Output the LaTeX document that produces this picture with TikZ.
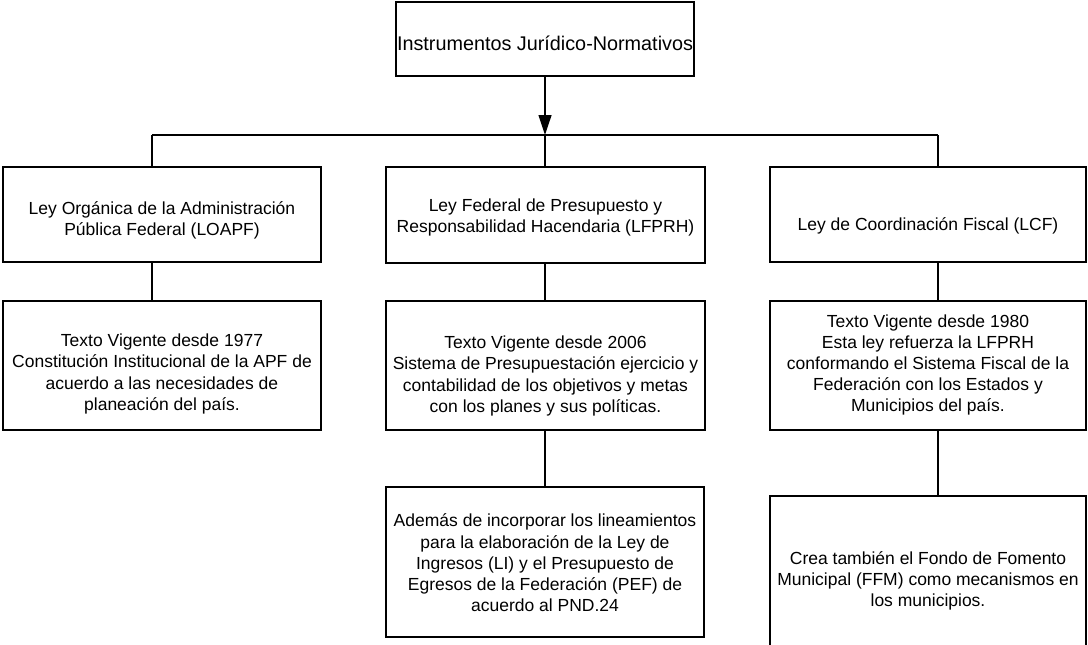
\documentclass[tikz,border=0pt]{standalone}
\usepackage{fontspec}
\setmainfont{Liberation Sans}
\usetikzlibrary{arrows.meta}

\begin{document}
\begin{tikzpicture}[x=1pt,y=-1pt,line width=1.2pt]
    \tikzstyle{box}=[rectangle,draw=black,fill=white,inner sep=0pt]
    \tikzstyle{txt}=[align=center,inner sep=0pt,font=\fontsize{17.5}{21.2}\selectfont]
    \useasboundingbox (0,0) rectangle (1088,645);

    % cajas
    \foreach \name/\x/\y/\w/\h in {top/545/39/298/74,
                                   L-1/162/214.5/318/95, M-1/545.5/215/319/96, R-1/928/214.5/316/95,
                                   L-2/162/365.5/318/129, M-2/545.5/365.5/319/129, R-2/928/365.5/316/129,
                                   M-3/545/562/318/150, R-3/928/588/316/184}
        \node[box,minimum width=\w pt,minimum height=\h pt] (\name) at (\x,\y) {};

    % textos
    \node[txt,font=\fontsize{19.8}{23}\selectfont] (top-t) at (545,43.5) {Instrumentos Jurídico-Normativos};
    \node[txt] (L-1-t) at (162,220) {Ley Orgánica de la Administración\\Pública Federal (LOAPF)};
    \node[txt] (M-1-t) at (545.5,217.5) {Ley Federal de Presupuesto y\\Responsabilidad Hacendaria (LFPRH)};
    \node[txt] (R-1-t) at (928,226) {Ley de Coordinación Fiscal (LCF)};
    \node[txt] (L-2-t) at (162,374) {Texto Vigente desde 1977\\Constitución Institucional de la APF de\\acuerdo a las necesidades de\\planeación del país.};
    \node[txt] (M-2-t) at (545.5,376) {Texto Vigente desde 2006\\Sistema de Presupuestación ejercicio y\\contabilidad de los objetivos y metas\\con los planes y sus políticas.};
    \node[txt] (R-2-t) at (928,365) {Texto Vigente desde 1980\\Esta ley refuerza la LFPRH\\conformando el Sistema Fiscal de la\\Federación con los Estados y\\Municipios del país.};
    \node[txt] (M-3-t) at (545,563) {Además de incorporar los lineamientos\\para la elaboración de la Ley de\\Ingresos (LI) y el Presupuesto de\\Egresos de la Federación (PEF) de\\acuerdo al PND.24};
    \node[txt] (R-3-t) at (928,581) {Crea también el Fondo de Fomento\\Municipal (FFM) como mecanismos en\\los municipios.};

    % conectores
    \foreach \col/\x in {L/152, M/545, R/938} {
        \coordinate (bus-\col) at (\x,135);
        \draw (bus-\col) -- (bus-\col |- \col-1.north);
        \draw (\col-1.south -| bus-\col) -- (\col-2.north -| bus-\col);
    }
    \draw (bus-L) -- (bus-R);
    \draw[-{Triangle[length=20pt,width=13pt]}] (top) -- (bus-M);

    \draw (M-2.south -| bus-M) -- (M-3.north -| bus-M);
    \draw (R-2.south -| bus-R) -- (R-3.north -| bus-R);
\end{tikzpicture}
\end{document}
